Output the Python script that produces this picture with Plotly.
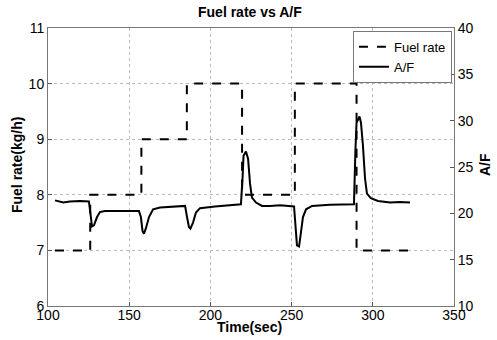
import plotly.graph_objects as go

# Fuel rate (kg/h), step changes
fuel_time = [104.3, 126.0, 157.5, 185.5, 219.5, 252.0, 290.0, 322.0]
fuel_rate = [7, 8, 9, 10, 8, 10, 7, 7]

# A/F ratio (right axis)
af_time = [104.3, 109.4, 113.5, 119.7, 125.2, 126.5, 127.1, 128.3, 130.2, 132.0, 135.0,
           144.3, 156.0, 157.2, 158.2, 159.1, 160.3, 162.2, 164.7, 169.0, 178.2, 184.4,
           185.6, 186.8, 187.7, 189.3, 191.1, 193.6, 202.8, 215.1, 218.8, 219.8, 220.4,
           221.9, 223.2, 224.4, 225.6, 228.1, 231.8, 236.7, 242.9, 251.5, 252.4, 253.3,
           254.6, 255.8, 257.0, 258.9, 262.6, 273.6, 288.4, 289.3, 290.0, 290.9, 291.8,
           292.7, 293.9, 295.2, 296.4, 298.8, 303.2, 310.6, 316.7, 322.9]
af_ratio = [21.40, 21.16, 21.28, 21.34, 21.28, 19.60, 18.58, 18.70, 19.60, 20.14, 20.26,
            20.26, 20.26, 19.60, 18.10, 17.80, 18.40, 19.60, 20.44, 20.62, 20.74, 20.80,
            19.60, 18.52, 18.34, 19.00, 20.08, 20.56, 20.74, 20.92, 20.98, 23.80, 26.20,
            26.68, 25.90, 23.20, 21.70, 21.16, 20.80, 20.80, 20.86, 20.74, 18.40, 16.54,
            16.42, 17.80, 19.60, 20.44, 20.80, 20.92, 20.98, 26.80, 29.80, 30.10, 30.46,
            29.80, 27.40, 23.80, 22.12, 21.64, 21.34, 21.16, 21.22, 21.16]

x_ticks = [100, 150, 200, 250, 300, 350]
y_left_ticks = [6, 7, 8, 9, 10, 11]
y_right_ticks = [10, 15, 20, 25, 30, 35, 40]

title_text = "Fuel rate vs A/F"
x_title = "Time(sec)"
y_left_title = "Fuel rate(kg/h)"
y_right_title = "A/F"

FONT = "Liberation Sans, Arial, sans-serif"

fig = go.Figure()
fig.add_trace(go.Scatter(x=fuel_time, y=fuel_rate, mode="lines", name="Fuel rate",
                         line=dict(color="black", width=2, dash="dash", shape="hv")))
fig.add_trace(go.Scatter(x=af_time, y=af_ratio, mode="lines", name="A/F", yaxis="y2",
                         line=dict(color="black", width=2)))

axis_common = dict(ticks="inside", ticklen=4, tickcolor="#555", showline=True,
                   linecolor="#777", zeroline=False, automargin=False)

fig.update_layout(
    width=497, height=340,
    margin=dict(l=48, r=43, t=28, b=34, autoexpand=False),
    paper_bgcolor="white", plot_bgcolor="white",
    font=dict(family=FONT, size=14, color="black"),
    showlegend=True,
    legend=dict(x=0.995, xanchor="right", y=0.99, yanchor="top", bgcolor="white",
                bordercolor="#777", borderwidth=1, font=dict(size=13),
                tracegroupgap=0, itemwidth=30),
    xaxis=dict(range=[100, 350], tickvals=x_ticks, mirror=True, showgrid=True,
               gridcolor="#bbb", griddash="dot", ticklabelstandoff=-4, **axis_common),
    yaxis=dict(range=[6, 11], tickvals=y_left_ticks, showgrid=True, gridcolor="#bbb",
               griddash="dot", **axis_common),
    yaxis2=dict(range=[10, 40], tickvals=y_right_ticks, overlaying="y", side="right",
                showgrid=False, **axis_common),
    annotations=[
        dict(text="<b>%s</b>" % title_text, xref="paper", yref="paper", x=0.4975, y=1.0576,
             xanchor="center", yanchor="middle", showarrow=False, font=dict(size=14)),
        dict(text="<b>%s</b>" % x_title, xref="paper", yref="paper", x=0.4975, y=-0.0755,
             xanchor="center", yanchor="middle", showarrow=False, font=dict(size=14)),
        dict(text="<b>%s</b>" % y_left_title, xref="paper", yref="paper", x=-0.0764, y=0.507,
             xanchor="center", yanchor="middle", showarrow=False, textangle=-90,
             font=dict(size=14)),
        dict(text="<b>%s</b>" % y_right_title, xref="paper", yref="paper", x=1.0764, y=0.507,
             xanchor="center", yanchor="middle", showarrow=False, textangle=-90,
             font=dict(size=14)),
    ],
)

fig.write_html("out.html", config={"displayModeBar": False},
               post_script="document.body.style.margin='0';document.body.style.overflow='hidden';")
